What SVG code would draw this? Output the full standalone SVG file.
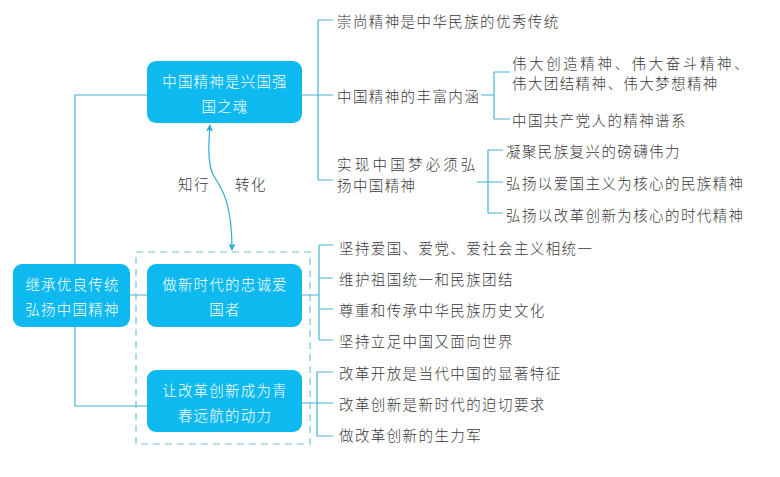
<svg xmlns="http://www.w3.org/2000/svg" width="780" height="477" viewBox="0 0 780 477">
<defs>
<style>
.node{fill:#0DB9EE;}
.nt{fill:#fff;font-family:"Noto Sans CJK SC","Noto Sans",sans-serif;font-size:14.5px;font-weight:300;letter-spacing:1.2px;text-anchor:middle;dominant-baseline:central;}
.t{fill:#3a3a3a;font-family:"Noto Sans CJK SC","Noto Sans",sans-serif;font-size:14.5px;font-weight:300;letter-spacing:1.4px;dominant-baseline:central;}
.ln{fill:none;stroke:#45B4D6;stroke-width:1.2;}
.dash{fill:none;stroke:#6EC3DC;stroke-width:1.2;stroke-dasharray:7 5;}
</style>
<marker id="ah" viewBox="0 0 10 10" refX="9" refY="5" markerWidth="7" markerHeight="7" orient="auto-start-reverse" markerUnits="userSpaceOnUse">
<path d="M0,0 L10,5 L0,10 L2,5 z" fill="#2FA9D8"/>
</marker>
</defs>
<rect width="780" height="477" fill="#fff"/>
<g id="connectors">
<path class="ln" d="M75,264 V95 H147 M75,327 V406 H147 M130,295 H147"/>
<path class="ln" d="M302,95 H318 M318,20 V180 M318,20 H333 M318,95 H333 M318,180 H333"/>
<path class="ln" d="M481,95 H494 M494,72 V119 M494,72 H510 M494,119 H510"/>
<path class="ln" d="M477,182 H488 M488,150 V213 M488,150 H503 M488,182 H503 M488,213 H503"/>
<path class="ln" d="M302,295 H319 M319,245 V340 M319,245 H333 M319,278 H333 M319,309 H333 M319,340 H333"/>
<path class="ln" d="M302,403 H317 M317,372 V436 M317,372 H333 M317,403 H333 M317,436 H333"/>
<path fill="none" stroke="#2FA9D8" stroke-width="1.2" d="M232,250 C232,205 223,190 215,178 C208,168 208,150 210,125" marker-start="url(#ah)" marker-end="url(#ah)"/>
<text class="t" x="178" y="183">知行</text>
<text class="t" x="235" y="183">转化</text>
</g>
<rect class="dash" x="136" y="252" width="174" height="192"/>
<g id="root">
<rect class="node" x="13" y="264" width="117" height="63" rx="9"/>
<text class="nt" x="72.5" y="283">继承优良传统</text>
<text class="nt" x="72.5" y="308">弘扬中国精神</text>
</g>
<g id="n1">
<rect class="node" x="147" y="61" width="155" height="62" rx="9"/>
<text class="nt" x="225" y="80">中国精神是兴国强</text>
<text class="nt" x="225" y="105">国之魂</text>
</g>
<g id="n2">
<rect class="node" x="147" y="264" width="155" height="63" rx="9"/>
<text class="nt" x="225" y="283">做新时代的忠诚爱</text>
<text class="nt" x="225" y="308">国者</text>
</g>
<g id="n3">
<rect class="node" x="147" y="370" width="155" height="62" rx="9"/>
<text class="nt" x="225" y="389">让改革创新成为青</text>
<text class="nt" x="225" y="414">春远航的动力</text>
</g>
<g id="leaves">
<text class="t" x="337" y="20">崇尚精神是中华民族的优秀传统</text>
<text class="t" x="337" y="95">中国精神的丰富内涵</text>
<text class="t" x="337" y="163" textLength="140" lengthAdjust="spacing">实现中国梦必须弘</text>
<text class="t" x="337" y="184">扬中国精神</text>
<text class="t" x="512" y="62" textLength="238" lengthAdjust="spacing">伟大创造精神、伟大奋斗精神、</text>
<text class="t" x="512" y="82">伟大团结精神、伟大梦想精神</text>
<text class="t" x="512" y="119">中国共产党人的精神谱系</text>
<text class="t" x="506" y="150">凝聚民族复兴的磅礴伟力</text>
<text class="t" x="506" y="182">弘扬以爱国主义为核心的民族精神</text>
<text class="t" x="506" y="214">弘扬以改革创新为核心的时代精神</text>
<text class="t" x="339" y="247">坚持爱国、爱党、爱社会主义相统一</text>
<text class="t" x="339" y="278">维护祖国统一和民族团结</text>
<text class="t" x="339" y="309">尊重和传承中华民族历史文化</text>
<text class="t" x="339" y="340">坚持立足中国又面向世界</text>
<text class="t" x="339" y="372">改革开放是当代中国的显著特征</text>
<text class="t" x="339" y="403">改革创新是新时代的迫切要求</text>
<text class="t" x="339" y="434">做改革创新的生力军</text>
</g>
</svg>
